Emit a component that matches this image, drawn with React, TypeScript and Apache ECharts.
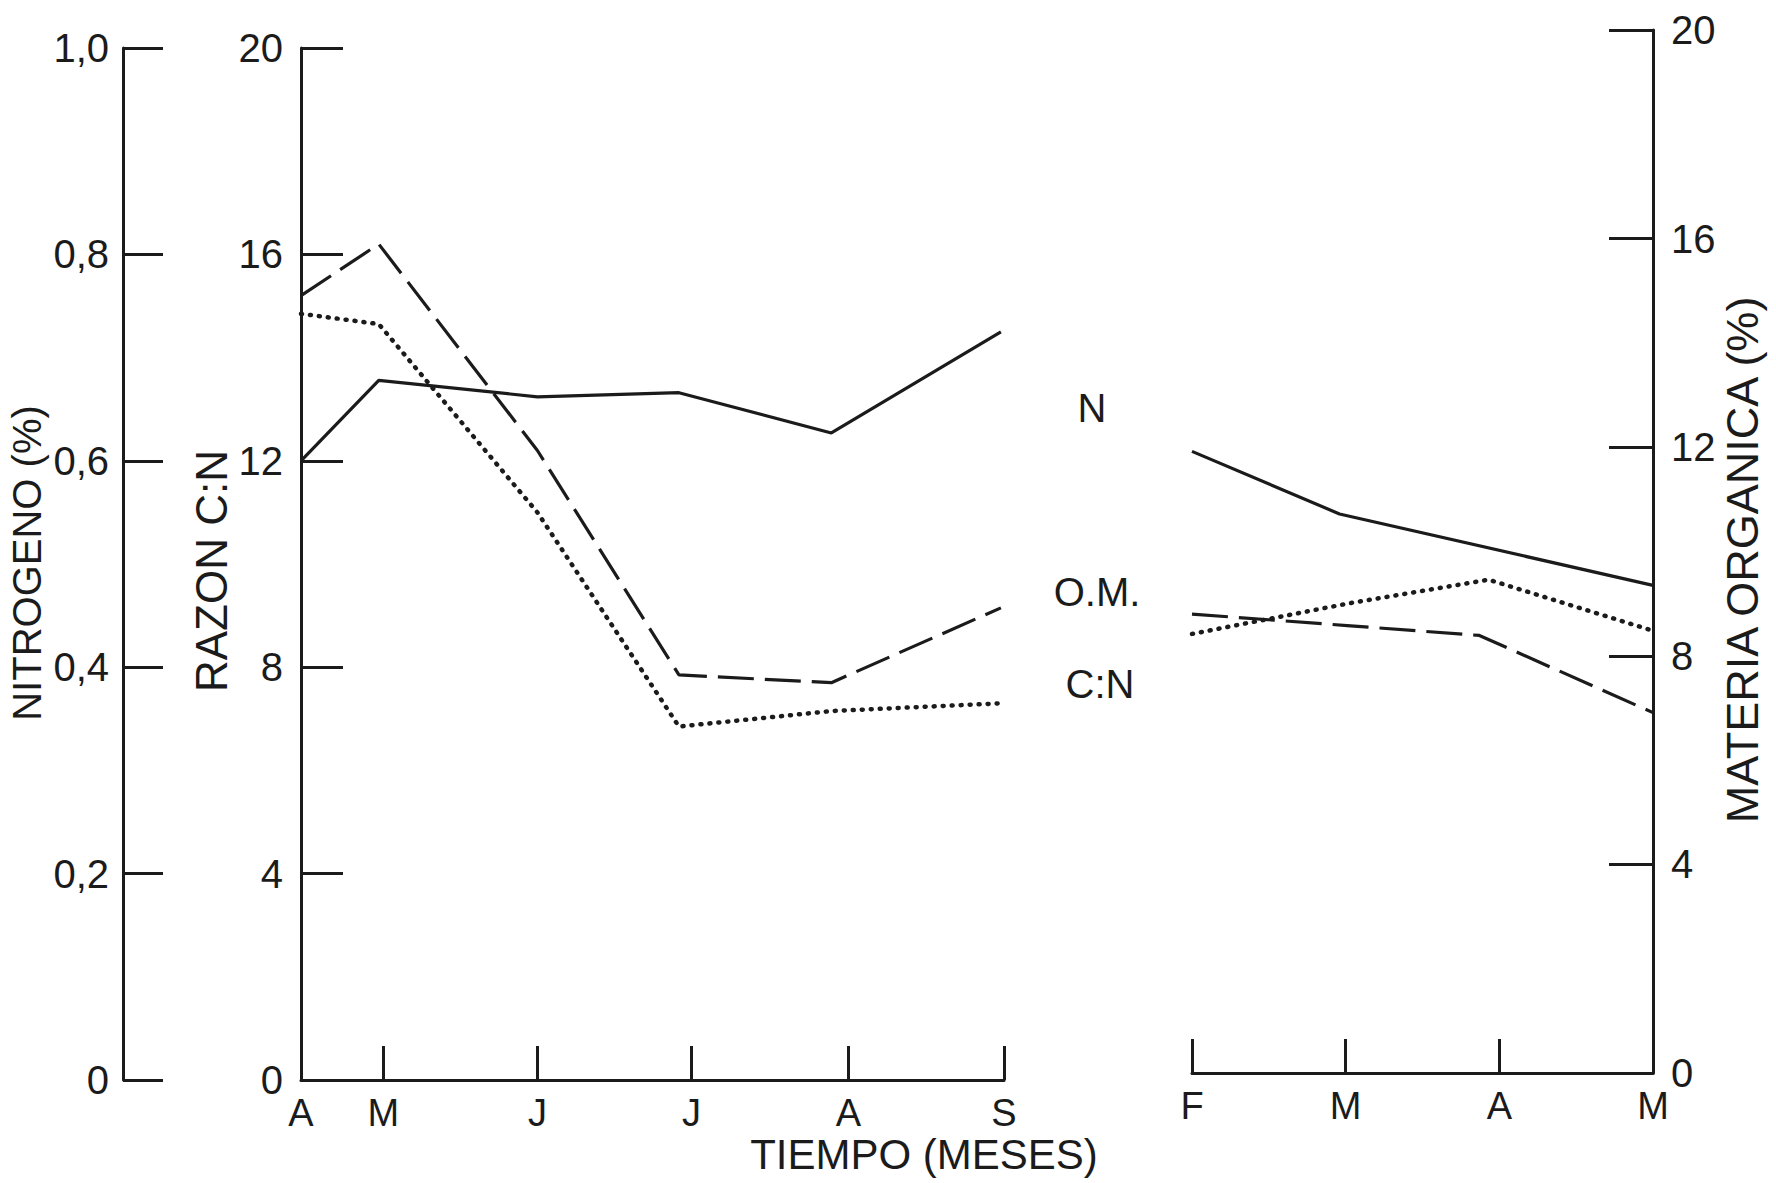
import React, { useEffect, useRef } from "react";
import * as echarts from "echarts";

// ---- Data ----
// Left block: April .. September (x in month units, A = 0)
const LEFT_MONTH_LABELS = ["A", "M", "J", "J", "A", "S"];
const LEFT_LABEL_POS = [0, 0.53, 1.52, 2.51, 3.52, 4.52];
const LEFT_TICK_POS = [0.53, 1.52, 2.51, 3.52, 4.52];
const LEFT_X = [0, 0.5, 1.52, 2.43, 3.41, 4.5];
const LEFT_N = [0.6, 0.678, 0.662, 0.666, 0.627, 0.725]; // Nitrógeno (%)
const LEFT_CN = [15.2, 16.2, 12.2, 7.85, 7.7, 9.15]; // Razón C:N
const LEFT_OM = [14.85, 14.65, 11.0, 6.85, 7.15, 7.3]; // Materia orgánica (%)

// Right block: February .. May (x in month units, F = 0)
const RIGHT_MONTH_LABELS = ["F", "M", "A", "M"];
const RIGHT_LABEL_POS = [0, 1, 2, 3];
const RIGHT_TICK_POS = [0, 1, 2];
const RIGHT_N_X = [0, 0.96, 3];
const RIGHT_N = [0.596, 0.536, 0.4675];
const RIGHT_OM_X = [0, 1.01, 1.93, 3];
const RIGHT_OM = [8.42, 9.0, 9.46, 8.48];
const RIGHT_CN_X = [0, 1.01, 1.87, 3];
const RIGHT_CN = [8.8, 8.58, 8.39, 6.91];

const INK = "#1b1b1b";
const FONT = "Liberation Sans";

function pairs(xs: number[], ys: number[]) {
  return xs.map((x, i) => [x, ys[i]]);
}

function nearestLabel(v: number, pos: number[], labels: string[]) {
  let best = 0;
  for (let i = 1; i < pos.length; i++) {
    if (Math.abs(pos[i] - v) < Math.abs(pos[best] - v)) best = i;
  }
  return labels[best];
}

export default function App() {
  const ref = useRef<HTMLDivElement>(null);

  useEffect(() => {
    document.body.style.margin = "0";
    if (!ref.current) return;
    const chart = echarts.init(ref.current, undefined, { renderer: "svg" });

    const axisLine = { show: true, onZero: false, lineStyle: { color: INK, width: 3 } };
    const tickLabel = { color: INK, fontFamily: FONT, fontSize: 40 };

    const solid = { color: INK, width: 3.2, type: "solid" as const };
    const dashed = { color: INK, width: 3.2, type: [36, 11] as any };
    const dotted = { color: INK, width: 4.5, type: [1, 8] as any, cap: "round" as const };

    const textStyle = (text: string, size: number) => ({
      text,
      fill: INK,
      font: `${size}px "${FONT}"`,
      textAlign: "center",
      textVerticalAlign: "middle",
    });

    const option: any = {
      animation: false,
      backgroundColor: "#ffffff",
      grid: [
        { left: 301, top: 48, width: 703, height: 1032, containLabel: false },
        { left: 1192, top: 30, width: 461, height: 1043, containLabel: false },
      ],
      xAxis: [
        {
          type: "value",
          gridIndex: 0,
          min: 0,
          max: 4.52,
          axisLine,
          splitLine: { show: false },
          axisTick: {
            show: true,
            inside: true,
            length: 34,
            customValues: LEFT_TICK_POS,
            lineStyle: { color: INK, width: 3 },
          },
          axisLabel: {
            ...tickLabel,
            fontSize: 38,
            margin: 14,
            customValues: LEFT_LABEL_POS,
            formatter: (v: number) => nearestLabel(v, LEFT_LABEL_POS, LEFT_MONTH_LABELS),
          },
        },
        {
          type: "value",
          gridIndex: 1,
          min: 0,
          max: 3,
          interval: 1,
          axisLine,
          splitLine: { show: false },
          axisTick: {
            show: true,
            inside: true,
            length: 34,
            customValues: RIGHT_TICK_POS,
            lineStyle: { color: INK, width: 3 },
          },
          axisLabel: {
            ...tickLabel,
            fontSize: 38,
            margin: 14,
            customValues: RIGHT_LABEL_POS,
            formatter: (v: number) => nearestLabel(v, RIGHT_LABEL_POS, RIGHT_MONTH_LABELS),
          },
        },
      ],
      yAxis: [
        {
          // 0: Razón C:N (left, visible)
          type: "value",
          gridIndex: 0,
          position: "left",
          min: 0,
          max: 20,
          interval: 4,
          axisLine,
          splitLine: { show: false },
          axisTick: { show: true, inside: true, length: 42, lineStyle: { color: INK, width: 3 } },
          axisLabel: { ...tickLabel, margin: 18 },
        },
        {
          // 1: Nitrógeno (%) (far left, visible)
          type: "value",
          gridIndex: 0,
          position: "left",
          offset: 178,
          min: 0,
          max: 1,
          interval: 0.2,
          axisLine,
          splitLine: { show: false },
          axisTick: { show: true, inside: true, length: 40, lineStyle: { color: INK, width: 3 } },
          axisLabel: {
            ...tickLabel,
            margin: 14,
            formatter: (v: number) => (v === 0 ? "0" : v.toFixed(1).replace(".", ",")),
          },
        },
        {
          // 2: Materia orgánica in left block (hidden, same scale)
          type: "value",
          gridIndex: 0,
          min: 0,
          max: 20,
          show: false,
        },
        {
          // 3: Materia orgánica (%) (right, visible)
          type: "value",
          gridIndex: 1,
          position: "right",
          min: 0,
          max: 20,
          interval: 4,
          axisLine,
          splitLine: { show: false },
          axisTick: { show: true, inside: true, length: 44, lineStyle: { color: INK, width: 3 } },
          axisLabel: { ...tickLabel, margin: 18 },
        },
        {
          // 4: C:N in right block (hidden)
          type: "value",
          gridIndex: 1,
          min: 0,
          max: 20,
          show: false,
        },
        {
          // 5: N in right block (hidden)
          type: "value",
          gridIndex: 1,
          min: 0,
          max: 1,
          show: false,
        },
      ],
      series: [
        {
          name: "N",
          type: "line",
          xAxisIndex: 0,
          yAxisIndex: 1,
          data: pairs(LEFT_X, LEFT_N),
          symbol: "none",
          lineStyle: solid,
        },
        {
          name: "C:N",
          type: "line",
          xAxisIndex: 0,
          yAxisIndex: 0,
          data: pairs(LEFT_X, LEFT_CN),
          symbol: "none",
          lineStyle: dashed,
        },
        {
          name: "O.M.",
          type: "line",
          xAxisIndex: 0,
          yAxisIndex: 2,
          data: pairs(LEFT_X, LEFT_OM),
          symbol: "none",
          lineStyle: dotted,
        },
        {
          name: "N (2)",
          type: "line",
          xAxisIndex: 1,
          yAxisIndex: 5,
          data: pairs(RIGHT_N_X, RIGHT_N),
          symbol: "none",
          lineStyle: solid,
        },
        {
          name: "C:N (2)",
          type: "line",
          xAxisIndex: 1,
          yAxisIndex: 4,
          data: pairs(RIGHT_CN_X, RIGHT_CN),
          symbol: "none",
          lineStyle: dashed,
        },
        {
          name: "O.M. (2)",
          type: "line",
          xAxisIndex: 1,
          yAxisIndex: 3,
          data: pairs(RIGHT_OM_X, RIGHT_OM),
          symbol: "none",
          lineStyle: dotted,
        },
      ],
      graphic: [
        { type: "text", x: 27, y: 563, rotation: Math.PI / 2, style: textStyle("NITROGENO (%)", 40) },
        { type: "text", x: 211, y: 571, rotation: Math.PI / 2, style: textStyle("RAZON C:N", 44) },
        { type: "text", x: 1742, y: 560, rotation: Math.PI / 2, style: textStyle("MATERIA ORGANICA (%)", 45) },
        { type: "text", x: 924, y: 1154, style: textStyle("TIEMPO (MESES)", 42) },
        { type: "text", x: 1092, y: 408, style: textStyle("N", 40) },
        { type: "text", x: 1097, y: 592, style: textStyle("O.M.", 40) },
        { type: "text", x: 1100, y: 684, style: textStyle("C:N", 40) },
      ],
    };

    chart.setOption(option);
    return () => chart.dispose();
  }, []);

  return <div ref={ref} style={{ width: 1776, height: 1183 }} />;
}
